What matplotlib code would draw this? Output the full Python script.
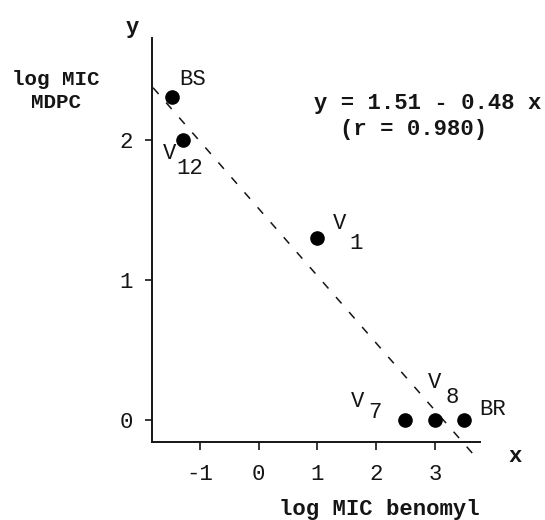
import matplotlib
matplotlib.use("Agg")
import matplotlib.pyplot as plt
import numpy as np

# data
strains = ["BS", "V", "V", "V", "V", "BR"]
subscripts = ["", "12", "1", "7", "8", ""]
log_mic_benomyl = [-1.48, -1.29, 1.00, 2.50, 3.00, 3.50]
log_mic_mdpc = [2.31, 2.00, 1.30, 0.00, 0.00, 0.00]

fit_intercept = 1.51
fit_slope = -0.48
fit_r = 0.980
fit_range = [-1.80, 3.74]

x_ticks = [-1, 0, 1, 2, 3]
y_ticks = [0, 1, 2]

# label offsets in pixels (name, subscript) relative to each point
name_offsets = [(21, 17), (-13, -13), (22, 15), (-48, 19), (0, 38), (28, 11)]
sub_offsets = [None, (7, -28), (39, -5), (-31, 8), (17, 23), None]

FONT = "Liberation Mono"
INK = "#151515"
FS = 16
W, H = 545, 520

fig = plt.figure(figsize=(W / 100, H / 100), dpi=100)
ax = fig.add_axes([152 / W, (H - 442) / H, (480 - 152) / W, (442 - 38) / H])

ax.plot(log_mic_benomyl, log_mic_mdpc, "o", color="black", ms=9.5, zorder=5)

xs = np.array(fit_range)
ax.plot(xs, fit_intercept + fit_slope * xs, color=INK, lw=1.1,
        dashes=(5.5, 7.5), clip_on=False)

for i, name in enumerate(strains):
    ax.annotate(name, (log_mic_benomyl[i], log_mic_mdpc[i]),
                xytext=name_offsets[i], textcoords="offset pixels",
                ha="center", va="center", family=FONT, fontsize=FS, color=INK)
    if subscripts[i]:
        ax.annotate(subscripts[i], (log_mic_benomyl[i], log_mic_mdpc[i]),
                    xytext=sub_offsets[i], textcoords="offset pixels",
                    ha="center", va="center", family=FONT, fontsize=FS,
                    color=INK)

ax.set_xlim(-1.818, 3.77)
ax.set_ylim(-0.157, 2.729)
ax.set_xticks(x_ticks)
ax.set_yticks(y_ticks)
ax.set_xticklabels([str(t) for t in x_ticks], family=FONT, fontsize=FS, color=INK)
ax.set_yticklabels([str(t) for t in y_ticks], family=FONT, fontsize=FS, color=INK)
ax.tick_params(axis="x", length=6, width=1.2, pad=10, color=INK)
ax.tick_params(axis="y", length=5, width=1.2, pad=9, color=INK)
for side in ("top", "right"):
    ax.spines[side].set_visible(False)
for side in ("left", "bottom"):
    ax.spines[side].set_linewidth(1.4)
    ax.spines[side].set_color(INK)
ax.patch.set_alpha(0)


def px(x, y):
    return x / W, 1 - y / H


fig.text(*px(132, 28), "y", ha="center", va="center", family=FONT,
         fontsize=FS, weight="bold", color=INK)
fig.text(*px(515, 457), "x", ha="center", va="center", family=FONT,
         fontsize=FS, weight="bold", color=INK)
fig.text(*px(56, 91), "log MIC\nMDPC", ha="center", va="center",
         multialignment="center", family=FONT, fontsize=FS - 1, weight="bold",
         color=INK, linespacing=1.25)
fig.text(*px(379, 510), "log MIC benomyl", ha="center", va="center",
         family=FONT, fontsize=FS, weight="bold", color=INK)
fig.text(*px(428, 103), f"y = {fit_intercept:.2f} - {abs(fit_slope):.2f} x",
         ha="center", va="center", family=FONT, fontsize=FS, weight="bold",
         color=INK)
fig.text(*px(414, 130), f"(r = {fit_r:.3f})", ha="center", va="center",
         family=FONT, fontsize=FS, weight="bold", color=INK)

fig.savefig("out.png", dpi=100)
